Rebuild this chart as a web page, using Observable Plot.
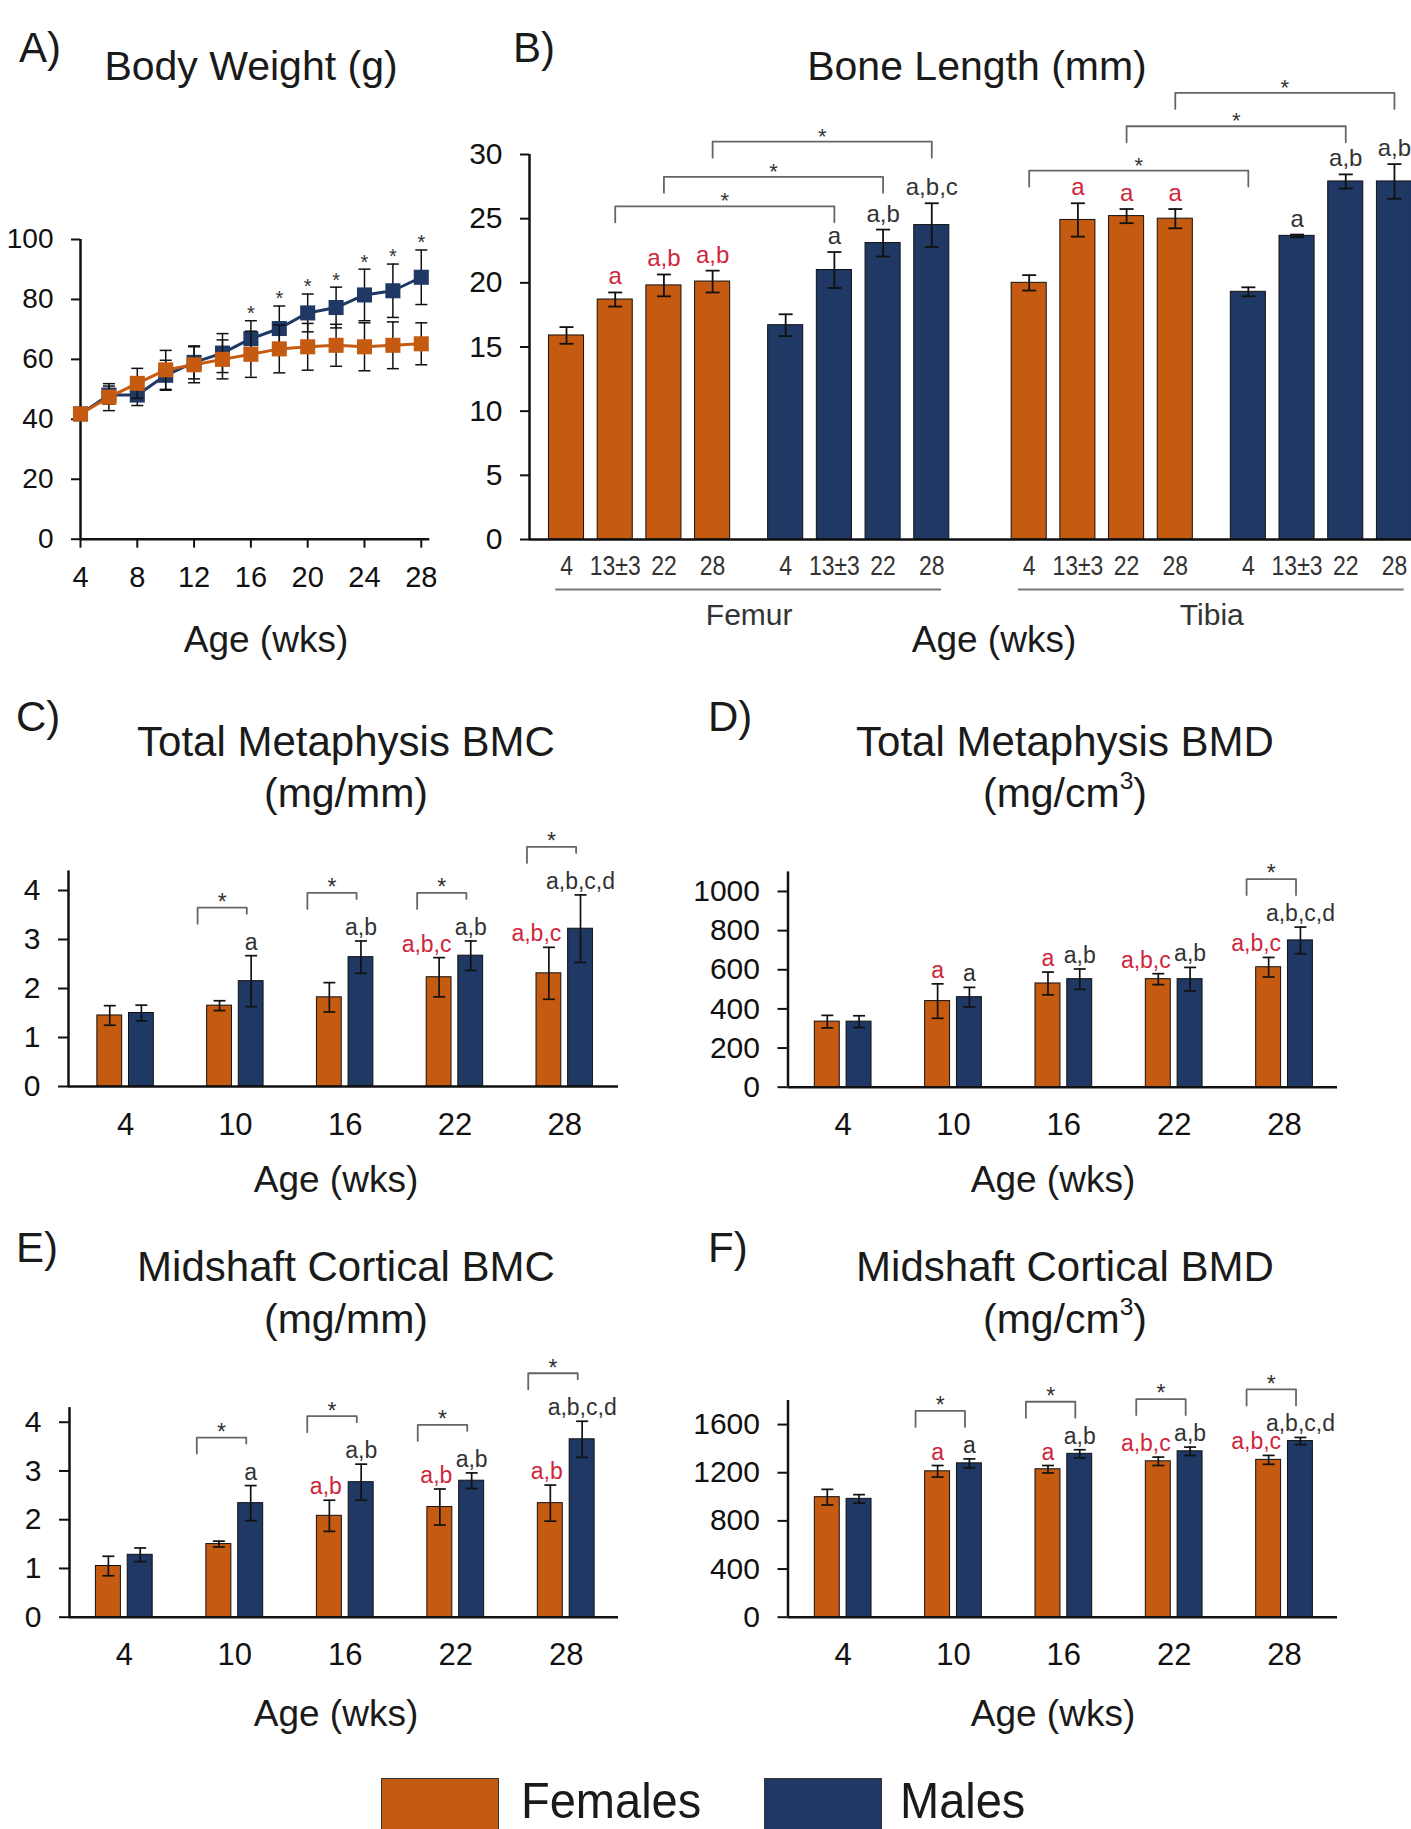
<!DOCTYPE html>
<html>
<head>
<meta charset="utf-8">
<script src="https://cdn.jsdelivr.net/npm/d3@7"></script>
<script src="https://cdn.jsdelivr.net/npm/@observablehq/plot@0.6"></script>
<style>
html, body { margin: 0; padding: 0; background: #fff; }
#fig { position: relative; width: 1411px; height: 1829px; overflow: hidden; background: #fff;
       font-family: 'Liberation Sans', Arial, Helvetica, sans-serif; color: #1a1a1a; }
.t { position: absolute; white-space: nowrap; line-height: 1; }
.panel { position: absolute; }
.panel svg { display: block; }
.sw { position: absolute; box-sizing: border-box; border: 1.5px solid #333; }
</style>
</head>
<body>
<div id="fig"></div>
<script>
// ---------------- DATA ----------------
const sexes = ["Females", "Males"];

// A) Body weight (g)
const bwWeeks = [4, 6, 8, 10, 12, 14, 16, 18, 20, 22, 24, 26, 28];
const bwFemale = [41.8, 47.4, 52.0, 56.5, 58.2, 60.0, 61.7, 63.5, 64.2, 64.7, 64.2, 64.7, 65.2];
const bwFemaleSD = [1.5, 4.5, 5.0, 6.5, 6.0, 6.5, 7.7, 8.0, 7.8, 7.0, 8.0, 7.8, 7.0];
const bwMale = [41.8, 48.1, 48.1, 54.7, 59.0, 62.1, 66.9, 70.3, 75.5, 77.3, 81.5, 82.9, 87.4];
const bwMaleSD = [1.5, 3.0, 3.5, 5.0, 5.5, 6.5, 6.0, 7.5, 6.3, 6.8, 8.6, 8.9, 9.1];
const bwStarWeeks = [16, 18, 20, 22, 24, 26, 28];

// B) Bone length (mm)
const boneAges = ["4", "13±3", "22", "28"];
const femurFemale = [15.9, 18.7, 19.8, 20.1];
const femurFemaleSD = [0.65, 0.55, 0.85, 0.85];
const femurMale = [16.7, 21.0, 23.1, 24.5];
const femurMaleSD = [0.85, 1.4, 1.05, 1.7];
const tibiaFemale = [20.0, 24.9, 25.2, 25.0];
const tibiaFemaleSD = [0.6, 1.3, 0.55, 0.75];
const tibiaMale = [19.3, 23.66, 27.9, 27.9];
const tibiaMaleSD = [0.35, 0.1, 0.55, 1.35];
const femurFemaleLab = ["", "a", "a,b", "a,b"];
const femurMaleLab = ["", "a", "a,b", "a,b,c"];
const tibiaFemaleLab = ["", "a", "a", "a"];
const tibiaMaleLab = ["", "a", "a,b", "a,b"];
const boneBracketBone = ["Femur", "Femur", "Femur", "Tibia", "Tibia", "Tibia"];
const boneBracketAge = ["13±3", "22", "28", "4", "22", "28"];
const boneBracketLevel = [25.96, 28.26, 31.0, 28.75, 32.2, 34.8];

// C-F) ages
const ages = ["4", "10", "16", "22", "28"];

// C) Total metaphysis BMC (mg/mm)
const cFemale = [1.45, 1.65, 1.82, 2.23, 2.31];
const cFemaleSD = [0.2, 0.1, 0.3, 0.4, 0.53];
const cMale = [1.5, 2.15, 2.64, 2.67, 3.22];
const cMaleSD = [0.16, 0.52, 0.33, 0.3, 0.69];
const cFemaleLab = ["", "", "", "a,b,c", "a,b,c"];
const cMaleLab = ["", "a", "a,b", "a,b", "a,b,c,d"];
const cStars = ["10", "16", "22", "28"];

// D) Total metaphysis BMD (mg/cm3)
const dFemale = [335, 440, 530, 552, 613];
const dFemaleSD = [32, 88, 58, 28, 50];
const dMale = [335, 460, 552, 552, 750];
const dMaleSD = [30, 50, 52, 60, 68];
const dFemaleLab = ["", "a", "a", "a,b,c", "a,b,c"];
const dMaleLab = ["", "a", "a,b", "a,b", "a,b,c,d"];
const dStars = ["28"];

// E) Midshaft cortical BMC (mg/mm)
const eFemale = [1.05, 1.5, 2.08, 2.26, 2.34];
const eFemaleSD = [0.2, 0.06, 0.32, 0.37, 0.37];
const eMale = [1.28, 2.34, 2.77, 2.8, 3.65];
const eMaleSD = [0.14, 0.36, 0.37, 0.16, 0.37];
const eFemaleLab = ["", "", "a,b", "a,b", "a,b"];
const eMaleLab = ["", "a", "a,b", "a,b", "a,b,c,d"];
const eStars = ["10", "16", "22", "28"];

// F) Midshaft cortical BMD (mg/cm3)
const fFemale = [997, 1212, 1229, 1295, 1307];
const fFemaleSD = [65, 48, 31, 35, 37];
const fMale = [983, 1278, 1357, 1378, 1463];
const fMaleSD = [35, 37, 34, 35, 30];
const fFemaleLab = ["", "a", "a", "a,b,c", "a,b,c"];
const fMaleLab = ["", "a", "a,b", "a,b", "a,b,c,d"];
const fStars = ["10", "16", "22", "28"];

// ---------------- STYLE ----------------
const FONT = "'Liberation Sans', Arial, Helvetica, sans-serif";
const NARROW = "'Liberation Sans Narrow', 'Arial Narrow', 'Liberation Sans', sans-serif";
const ORANGE = "#C55A11", NAVY = "#1F3864", RED = "#D0253A", DARK = "#333333", GREY = "#666666", INK = "#111111";
const colorScale = {domain: sexes, range: [ORANGE, NAVY]};
const capSymbol = {draw(ctx, size) { const w = Math.sqrt(size / Math.PI); ctx.moveTo(-w, 0); ctx.lineTo(w, 0); }};
const baseStyle = {fontFamily: FONT, fontSize: "30px", color: INK, background: "transparent", overflow: "visible"};
const plain = d => String(d);

const fig = document.getElementById("fig");
function txt(html, x, y, size, opts = {}) {
  const el = document.createElement("div");
  el.className = "t";
  el.innerHTML = html;
  el.style.left = x + "px";
  el.style.top = y + "px";
  el.style.fontSize = size + "px";
  if (opts.color) el.style.color = opts.color;
  const ax = opts.anchor === "start" ? "0" : "-50%";
  el.style.transformOrigin = opts.anchor === "start" ? "left center" : "center center";
  el.style.transform = `translate(${ax}, -50%)` + (opts.sx ? ` scaleX(${opts.sx})` : "");
  fig.appendChild(el);
}
function place(svg, left, top) {
  const w = document.createElement("div");
  w.className = "panel";
  w.style.left = left + "px";
  w.style.top = top + "px";
  w.appendChild(svg);
  fig.appendChild(w);
}
function errMarks(rows, xAcc, r, sw) {
  return [
    Plot.ruleX(rows, {x: xAcc, y1: d => d.mean - d.sd, y2: d => d.mean + d.sd, stroke: INK, strokeWidth: sw}),
    Plot.dot(rows, {x: xAcc, y: d => d.mean + d.sd, symbol: capSymbol, r, stroke: INK, strokeWidth: sw, fill: "none"}),
    Plot.dot(rows, {x: xAcc, y: d => d.mean - d.sd, symbol: capSymbol, r, stroke: INK, strokeWidth: sw, fill: "none"})
  ];
}

// ---------------- PANEL A ----------------
(function () {
  const rows = [];
  bwWeeks.forEach((w, i) => rows.push({sex: "Males", week: w, mean: bwMale[i], sd: bwMaleSD[i]}));
  bwWeeks.forEach((w, i) => rows.push({sex: "Females", week: w, mean: bwFemale[i], sd: bwFemaleSD[i]}));
  const stars = rows.filter(d => d.sex === "Males" && bwStarWeeks.includes(d.week));
  const xDom = [bwWeeks[0], 28.6];
  const series = sex => {
    const r = rows.filter(d => d.sex === sex);
    return [
      ...errMarks(r, "week", 6, 1.5),
      Plot.line(r, {x: "week", y: "mean", stroke: "sex", strokeWidth: 3}),
      Plot.dot(r, {x: "week", y: "mean", symbol: "square", r: 8.5, fill: "sex"})
    ];
  };
  const W = 470, H = 420;
  const svg = Plot.plot({
    width: W, height: H, marginLeft: 80, marginRight: 40.7, marginTop: 39, marginBottom: 81.3,
    style: baseStyle,
    x: {domain: xDom},
    y: {domain: [0, 100]},
    color: colorScale,
    marks: [
      Plot.axisY({ticks: d3.range(0, 101, 20), tickFormat: plain, tickSize: 9, tickPadding: 18, fontSize: 28, strokeWidth: 2, label: null}),
      Plot.axisX({ticks: d3.range(4, 29, 4), tickFormat: plain, tickSize: 9, tickPadding: 18, fontSize: 29, strokeWidth: 2, label: null}),
      Plot.ruleX([xDom[0]], {strokeWidth: 2.5}),
      Plot.ruleY([0], {strokeWidth: 2.5}),
      ...series("Males"),
      ...series("Females"),
      Plot.text(stars, {x: "week", y: d => d.mean + d.sd, text: () => "*", dy: -7, fontSize: 20, fill: DARK})
    ]
  });
  place(svg, 0, 200);
})();

// ---------------- PANEL B ----------------
(function () {
  const groups = [
    {bone: "Femur", sex: "Females", mean: femurFemale, sd: femurFemaleSD, lab: femurFemaleLab},
    {bone: "Femur", sex: "Males", mean: femurMale, sd: femurMaleSD, lab: femurMaleLab},
    {bone: "Tibia", sex: "Females", mean: tibiaFemale, sd: tibiaFemaleSD, lab: tibiaFemaleLab},
    {bone: "Tibia", sex: "Males", mean: tibiaMale, sd: tibiaMaleSD, lab: tibiaMaleLab}
  ];
  // layout of the category axis (in bar steps): gap between sexes 1.5 steps, between bones 2 steps
  const start = {"Femur|Females": 0, "Femur|Males": 4.5, "Tibia|Females": 9.5, "Tibia|Males": 14};
  const rows = groups.flatMap(g => boneAges.map((age, j) => ({
    bone: g.bone, sex: g.sex, age, j, mean: g.mean[j], sd: g.sd[j], lab: g.lab[j]
  })));
  const slot = d => start[d.bone + "|" + d.sex] + d.j;
  const HALF = 0.36;
  const W = 981, H = 660, mT = 154, mB = 121;
  const yDom = [0, 30];
  const k = (H - mT - mB) / (yDom[1] - yDom[0]);
  const xDom = [-0.76, 17.35];
  const brackets = boneBracketBone.map((bone, i) => {
    const j = boneAges.indexOf(boneBracketAge[i]);
    return {id: i, bone, x1: start[bone + "|Females"] + j, x2: start[bone + "|Males"] + j, lvl: boneBracketLevel[i]};
  });
  const leg = 16 / k;
  const pts = brackets.flatMap(b => [
    {id: b.id, x: b.x1, y: b.lvl - leg}, {id: b.id, x: b.x1, y: b.lvl},
    {id: b.id, x: b.x2, y: b.lvl}, {id: b.id, x: b.x2, y: b.lvl - leg}
  ]);
  const bones = ["Femur", "Tibia"].map(bone => {
    const s = rows.filter(d => d.bone === bone).map(slot);
    return {bone, x1: d3.min(s) - 0.22, x2: d3.max(s) + 0.2, mid: (d3.min(s) + d3.max(s)) / 2};
  });
  const svg = Plot.plot({
    width: W, height: H, marginLeft: 99, marginRight: 0, marginTop: mT, marginBottom: mB,
    style: baseStyle,
    x: {domain: xDom, axis: null},
    y: {domain: yDom},
    color: colorScale,
    marks: [
      Plot.axisY({ticks: d3.range(0, 31, 5), tickFormat: plain, tickSize: 9, tickPadding: 18, fontSize: 30, strokeWidth: 2, label: null}),
      Plot.rect(rows, {x1: d => slot(d) - HALF, x2: d => slot(d) + HALF, y1: 0, y2: "mean", fill: "sex", stroke: INK, strokeWidth: 1}),
      ...errMarks(rows, slot, 7, 1.8),
      Plot.ruleX([xDom[0]], {strokeWidth: 2.5}),
      Plot.ruleY([0], {strokeWidth: 2.5}),
      Plot.text(rows, {x: slot, y: 0, text: "age", dy: 27, fontSize: 28, fontFamily: NARROW, fill: DARK}),
      Plot.ruleY(bones, {y: 0, x1: "x1", x2: "x2", dy: 50, stroke: "#777", strokeWidth: 2}),
      Plot.text(bones, {x: "mid", y: 0, text: "bone", dy: 76, fontSize: 30, fill: DARK}),
      Plot.text(rows.filter(d => d.lab), {x: slot, y: d => d.mean + d.sd, text: "lab", lineAnchor: "bottom", dy: -8,
        fontSize: 24, fill: d => d.sex === "Females" ? RED : DARK}),
      Plot.line(pts, {x: "x", y: "y", z: "id", stroke: GREY, strokeWidth: 1.8}),
      Plot.text(brackets, {x: d => (d.x1 + d.x2) / 2, y: "lvl", text: () => "*", dy: -5, fontSize: 22, fill: DARK})
    ]
  });
  place(svg, 430, 0);
  // condensed tick labels (narrow face emulated by horizontal scaling)
  svg.querySelectorAll('g[font-family*="Narrow"] text').forEach(t => {
    t.setAttribute("transform", (t.getAttribute("transform") || "") + " scale(0.82,1)");
  });
})();

// ---------------- PANELS C-F ----------------
const OFF = 0.144, HALFW = 0.113;
function groupedPanel(cfg) {
  const rows = [];
  ages.forEach((age, i) => {
    rows.push({age, i, sex: "Females", mean: cfg.fMean[i], sd: cfg.fSD[i], lab: cfg.fLab[i]});
    rows.push({age, i, sex: "Males", mean: cfg.mMean[i], sd: cfg.mSD[i], lab: cfg.mLab[i]});
  });
  const xp = d => d.i + (d.sex === "Females" ? -OFF : OFF);
  const top = d => d.mean + d.sd;
  const k = (cfg.height - cfg.mT - cfg.mB) / (cfg.yDom[1] - cfg.yDom[0]);
  const brackets = cfg.stars.map(age => {
    const i = ages.indexOf(age);
    const f = rows[2 * i], m = rows[2 * i + 1];
    return {age, x1: i - OFF - 0.2, x2: i + OFF - 0.04, lvl: Math.max(top(f), top(m)) + 48 / k};
  });
  const pts = brackets.flatMap(b => [
    {id: b.age, x: b.x1, y: b.lvl - 16 / k}, {id: b.age, x: b.x1, y: b.lvl},
    {id: b.age, x: b.x2, y: b.lvl}, {id: b.age, x: b.x2, y: b.lvl - cfg.rightLeg / k}
  ]);
  const fem = rows.filter(d => d.sex === "Females" && d.lab);
  const svg = Plot.plot({
    width: cfg.width, height: cfg.height,
    marginLeft: cfg.mL, marginRight: cfg.mR, marginTop: cfg.mT, marginBottom: cfg.mB,
    style: baseStyle,
    x: {domain: cfg.xDom},
    y: {domain: cfg.yDom},
    color: colorScale,
    marks: [
      Plot.axisY({ticks: cfg.yTicks, tickFormat: plain, tickSize: 10, tickPadding: 18, fontSize: 30, strokeWidth: 2, label: null}),
      Plot.axisX({ticks: d3.range(ages.length), tickFormat: i => ages[i], tickSize: 0, tickPadding: 26, fontSize: 31, label: null}),
      Plot.rect(rows, {x1: d => xp(d) - HALFW, x2: d => xp(d) + HALFW, y1: 0, y2: "mean", fill: "sex", stroke: INK, strokeWidth: 1}),
      ...errMarks(rows, xp, 6, 1.7),
      Plot.ruleX([cfg.xDom[0]], {strokeWidth: 2.5}),
      Plot.ruleY([0], {strokeWidth: 2.5}),
      Plot.text(fem.filter(d => d.lab.length === 1), {x: xp, y: top, text: "lab", lineAnchor: "bottom", dy: -6, fontSize: 23, fill: RED}),
      Plot.text(fem.filter(d => d.lab.length > 1), {x: d => xp(d) + HALFW, y: top, text: "lab", textAnchor: "end", lineAnchor: "bottom", dy: -6, fontSize: 23, fill: RED}),
      Plot.text(rows.filter(d => d.sex === "Males" && d.lab), {x: xp, y: top, text: "lab", lineAnchor: "bottom", dy: -6, fontSize: 23, fill: DARK}),
      Plot.line(pts, {x: "x", y: "y", z: "id", stroke: GREY, strokeWidth: 1.8}),
      Plot.text(brackets, {x: d => (d.x1 + d.x2) / 2, y: "lvl", text: () => "*", dy: -5, fontSize: 23, fill: DARK})
    ]
  });
  place(svg, cfg.left, cfg.top);
}

groupedPanel({left: 0, top: 820, width: 660, height: 350, mL: 68, mR: 42, mT: 50.4, mB: 84,
  xDom: [-0.52, 4.49], yDom: [0, 4.4], yTicks: [0, 1, 2, 3, 4], rightLeg: 6,
  fMean: cFemale, fSD: cFemaleSD, mMean: cMale, mSD: cMaleSD, fLab: cFemaleLab, mLab: cMaleLab, stars: cStars});
groupedPanel({left: 700, top: 820, width: 711, height: 350, mL: 87.5, mR: 74, mT: 51.4, mB: 83.3,
  xDom: [-0.5, 4.48], yDom: [0, 1100], yTicks: d3.range(0, 1001, 200), rightLeg: 16,
  fMean: dFemale, fSD: dFemaleSD, mMean: dMale, mSD: dMaleSD, fLab: dFemaleLab, mLab: dMaleLab, stars: dStars});
groupedPanel({left: 0, top: 1350, width: 660, height: 350, mL: 69, mR: 42, mT: 57.1, mB: 83.3,
  xDom: [-0.496, 4.473], yDom: [0, 4.3], yTicks: [0, 1, 2, 3, 4], rightLeg: 6,
  fMean: eFemale, fSD: eFemaleSD, mMean: eMale, mSD: eMaleSD, fLab: eFemaleLab, mLab: eMaleLab, stars: eStars});
groupedPanel({left: 700, top: 1350, width: 711, height: 350, mL: 87.5, mR: 74, mT: 50, mB: 83.3,
  xDom: [-0.5, 4.48], yDom: [0, 1800], yTicks: d3.range(0, 1601, 400), rightLeg: 16,
  fMean: fFemale, fSD: fFemaleSD, mMean: fMale, mSD: fMaleSD, fLab: fFemaleLab, mLab: fMaleLab, stars: fStars});

// ---------------- TEXT ----------------
const sup3 = '<span style="font-size:0.6em;position:relative;top:-0.75em">3</span>';
txt("A)", 19, 48, 42, {anchor: "start"});
txt("B)", 513, 48, 42, {anchor: "start"});
txt("Body Weight (g)", 251, 66, 41);
txt("Bone Length (mm)", 977, 66, 41);
txt("Age (wks)", 266, 639, 37);
txt("Age (wks)", 994, 639, 37);

txt("C)", 16, 717, 42, {anchor: "start"});
txt("D)", 708, 717, 42, {anchor: "start"});
txt("Total Metaphysis BMC", 346, 742, 42);
txt("(mg/mm)", 346, 793, 41);
txt("Total Metaphysis BMD", 1065, 742, 42);
txt("(mg/cm" + sup3 + ")", 1065, 793, 41);
txt("Age (wks)", 336, 1179, 37);
txt("Age (wks)", 1053, 1179, 37);

txt("E)", 16, 1248, 42, {anchor: "start"});
txt("F)", 708, 1248, 42, {anchor: "start"});
txt("Midshaft Cortical BMC", 346, 1267, 42);
txt("(mg/mm)", 346, 1319, 41);
txt("Midshaft Cortical BMD", 1065, 1267, 42);
txt("(mg/cm" + sup3 + ")", 1065, 1319, 41);
txt("Age (wks)", 336, 1713, 37);
txt("Age (wks)", 1053, 1713, 37);

// ---------------- LEGEND ----------------
const legendSwatch = [[sexes[0], ORANGE, 381, 521], [sexes[1], NAVY, 764, 900]];
legendSwatch.forEach(([name, col, sx, tx]) => {
  const sw = document.createElement("div");
  sw.className = "sw";
  sw.style.left = sx + "px"; sw.style.top = "1778px"; sw.style.width = "118px"; sw.style.height = "70px";
  sw.style.background = col;
  fig.appendChild(sw);
  txt(name, tx, 1801, 50, {anchor: "start", sx: 0.94});
});
</script>
</body>
</html>
